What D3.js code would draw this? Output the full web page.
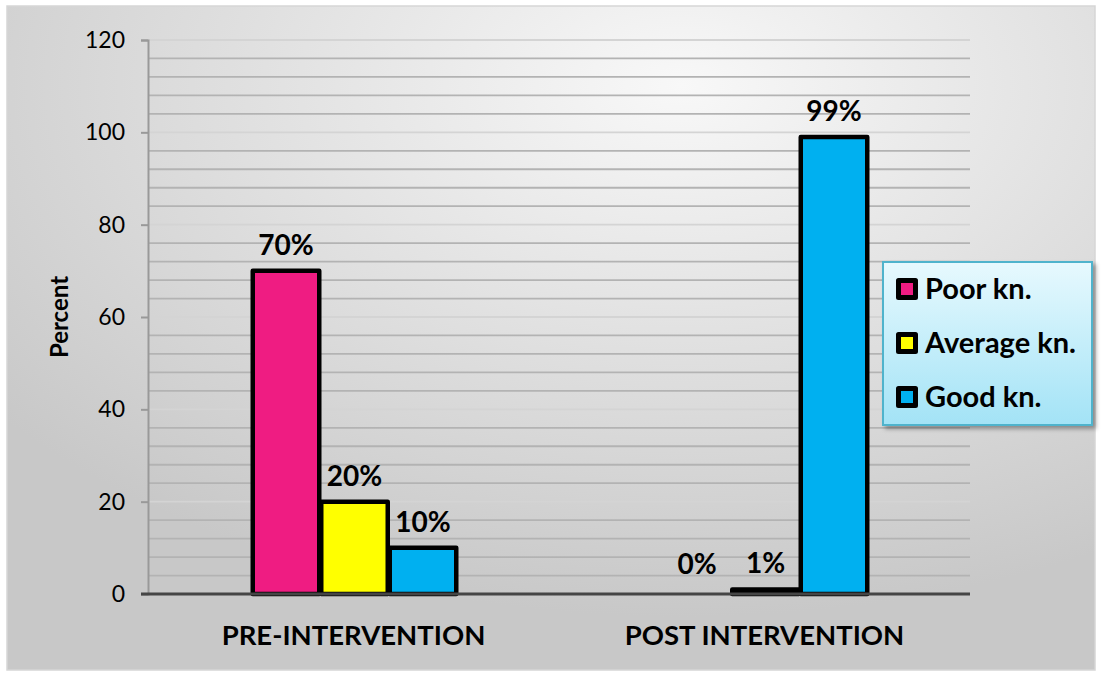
<!DOCTYPE html>
<html>
<head>
<meta charset="utf-8">
<script src="https://cdn.jsdelivr.net/npm/d3@7"></script>
<style>
  body { margin: 0; background: #fff; }
  svg { display: block; font-family: Lato, "Open Sans", sans-serif; }
</style>
</head>
<body>
<div id="graph"></div>
<script>
// chart data
var categories = ["PRE-INTERVENTION", "POST INTERVENTION"];
var seriesNames = ["Poor kn.", "Average kn.", "Good kn."];
var poorValues = [70, 0];
var averageValues = [20, 1];
var goodValues = [10, 99];
var yTicks = [0, 20, 40, 60, 80, 100, 120];
var colors = ["#ef1c82", "#ffff00", "#00b0f0"];

var width = 1101;
var height = 675;
var plot = { left: 148, right: 970, top: 40, bottom: 594 };

var svg = d3.select("#graph")
  .append("svg")
  .attr("width", width)
  .attr("height", height);

var defs = svg.append("defs");

// chart background gradient
var bg = defs.append("radialGradient")
  .attr("id", "bg")
  .attr("cx", "62%").attr("cy", "12%").attr("r", "80%");
bg.append("stop").attr("offset", "0%").attr("stop-color", "#f8f8f8");
bg.append("stop").attr("offset", "100%").attr("stop-color", "#c8c8c8");

var lg = defs.append("linearGradient")
  .attr("id", "legendBg")
  .attr("x1", 0).attr("y1", 0).attr("x2", 0).attr("y2", 1);
lg.append("stop").attr("offset", "0%").attr("stop-color", "#e7f9fe");
lg.append("stop").attr("offset", "100%").attr("stop-color", "#a3e3f6");

var shadow = defs.append("filter").attr("id", "shadow")
  .attr("x", "-10%").attr("y", "-10%").attr("width", "130%").attr("height", "130%");
shadow.append("feDropShadow")
  .attr("dx", 3).attr("dy", 3).attr("stdDeviation", 2)
  .attr("flood-color", "#000").attr("flood-opacity", 0.35);

svg.append("rect")
  .attr("x", 7).attr("y", 6)
  .attr("width", 1088).attr("height", 664)
  .attr("fill", "url(#bg)")
  .attr("stroke", "#d6d6d6")
  .attr("stroke-width", 1.5);

// scales
var yScale = d3.scaleLinear()
  .domain([0, 120])
  .range([plot.bottom, plot.top]);

var xScale = d3.scaleBand()
  .domain(categories)
  .range([plot.left, plot.right]);

var xInner = d3.scaleBand()
  .domain(seriesNames)
  .range([xScale.bandwidth() * 0.25, xScale.bandwidth() * 0.75]);

// gridlines (every 4 units, lighter on the labelled ticks)
var gridValues = d3.range(4, 121, 4);
svg.append("g")
  .selectAll("line")
  .data(gridValues)
  .join("line")
  .attr("x1", plot.left)
  .attr("x2", plot.right)
  .attr("y1", function(d) { return yScale(d); })
  .attr("y2", function(d) { return yScale(d); })
  .attr("stroke", function(d) { return d % 20 === 0 ? "#d4d4d4" : "#b3b3b3"; })
  .attr("stroke-width", 1.8);

// y axis
var yAxis = svg.append("g")
  .attr("transform", "translate(" + plot.left + ",0)")
  .call(d3.axisLeft(yScale).tickValues(yTicks).tickSize(7).tickPadding(16));
yAxis.select(".domain").attr("stroke", "#999").attr("stroke-width", 2);
yAxis.selectAll(".tick line").attr("stroke", "#999").attr("stroke-width", 2);
yAxis.selectAll(".tick text")
  .attr("font-size", 23)
  .attr("fill", "#000")
  .attr("font-family", "Lato, sans-serif");

svg.append("text")
  .attr("transform", "translate(68," + ((plot.top + plot.bottom) / 2) + ") rotate(-90)")
  .attr("text-anchor", "middle")
  .attr("font-size", 24)
  .attr("font-weight", "bold")
  .text("Percent");

// bars
var rows = [];
categories.forEach(function(c, i) {
  [poorValues, averageValues, goodValues].forEach(function(vals, s) {
    rows.push({ cat: c, series: seriesNames[s], value: vals[i], s: s });
  });
});

var barGroup = svg.append("g");
barGroup.selectAll("rect")
  .data(rows.filter(function(d) { return d.value > 0; }))
  .join("rect")
  .attr("x", function(d) { return xScale(d.cat) + xInner(d.series) + 2; })
  .attr("y", function(d) { return yScale(d.value); })
  .attr("width", xInner.bandwidth() - 2)
  .attr("height", function(d) { return yScale(0) - yScale(d.value); })
  .attr("fill", function(d) { return colors[d.s]; })
  .attr("stroke", "#000")
  .attr("stroke-width", 4.5)
  .attr("stroke-linejoin", "round");

// x axis baseline
svg.append("line")
  .attr("x1", plot.left - 7)
  .attr("x2", plot.right)
  .attr("y1", yScale(0))
  .attr("y2", yScale(0))
  .attr("stroke", "#454545")
  .attr("stroke-width", 3);

// value labels
svg.append("g")
  .selectAll("text")
  .data(rows)
  .join("text")
  .attr("x", function(d) { return xScale(d.cat) + xInner(d.series) + xInner.bandwidth() / 2 + 1; })
  .attr("y", function(d) { return Math.min(yScale(d.value) - 16, yScale(0) - 20); })
  .attr("text-anchor", "middle")
  .attr("font-size", 28)
  .attr("font-weight", "bold")
  .text(function(d) { return d.value + "%"; });

// category labels
svg.append("g")
  .selectAll("text")
  .data(categories)
  .join("text")
  .attr("x", function(d) { return xScale(d) + xScale.bandwidth() / 2; })
  .attr("y", 645)
  .attr("text-anchor", "middle")
  .attr("font-size", 27.5)
  .attr("font-weight", "bold")
  .text(function(d) { return d; });

// legend
var legend = svg.append("g").attr("transform", "translate(883,262)");
legend.append("rect")
  .attr("width", 209)
  .attr("height", 163)
  .attr("fill", "url(#legendBg)")
  .attr("stroke", "#4fb3cc")
  .attr("stroke-width", 2)
  .attr("filter", "url(#shadow)");

var items = legend.selectAll("g.item")
  .data(seriesNames)
  .join("g")
  .attr("class", "item")
  .attr("transform", function(d, i) { return "translate(0," + (27 + i * 54) + ")"; });

items.append("rect")
  .attr("x", 15.5)
  .attr("y", -8.5)
  .attr("width", 17)
  .attr("height", 17)
  .attr("fill", function(d, i) { return colors[i]; })
  .attr("stroke", "#000")
  .attr("stroke-width", 5)
  .attr("stroke-linejoin", "round");

items.append("text")
  .attr("x", 42)
  .attr("y", 10)
  .attr("font-size", 29)
  .attr("font-weight", "bold")
  .text(function(d) { return d; });
</script>
</body>
</html>
